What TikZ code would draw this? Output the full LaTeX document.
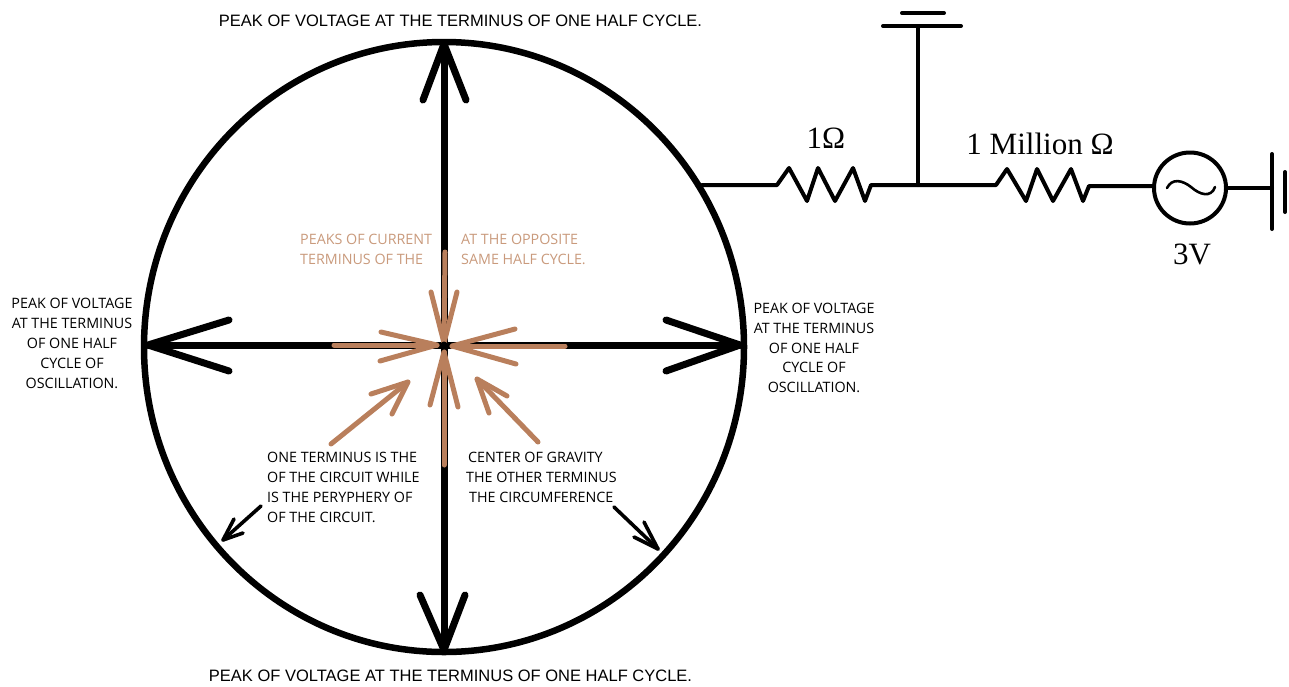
\documentclass[tikz,border=0pt]{standalone}
\usepackage{fontspec}
\usetikzlibrary{shapes.geometric}
\setmainfont{Open Sans}
\newfontfamily\arialf{Liberation Sans}
\newfontfamily\timesf{Liberation Serif}
\definecolor{brn}{HTML}{B97F5C}
\definecolor{brntxt}{HTML}{C99A7C}
\tikzset{
  thick line/.style={draw=black,line width=7pt,line cap=round,line join=round},
  wire/.style={draw=black,line width=4pt,line cap=round,line join=round},
  brown line/.style={draw=brn,line width=5pt,line cap=round,line join=round},
  thin arrow/.style={draw=black,line width=3.6pt,line cap=round,line join=round},
  small/.style={font=\fontsize{14.3}{19.8}\selectfont,align=center,inner sep=0pt,text=black},
  smallk/.style={font=\fontsize{14.3}{20}\selectfont,align=left,inner sep=0pt,anchor=north west,text=black},
  browntext/.style={font=\fontsize{14.3}{19.5}\selectfont,align=left,inner sep=0pt,anchor=north west,text=brntxt},
  cap text/.style={font=\arialf\fontsize{16.5}{18}\selectfont,inner sep=0pt},
  value/.style={font=\timesf\fontsize{31}{33}\selectfont,inner sep=0pt},
}
\begin{document}
\begin{tikzpicture}[x=1pt,y=-1pt]
\useasboundingbox (0,0) rectangle (1289,686);
% main circle
\node[draw=black,line width=6.5pt,ellipse,inner sep=0pt,minimum width=600pt,minimum height=610pt] (ring) at (444,347) {};
% coordinates
\coordinate (c) at (444,345);
\coordinate (top) at (444,44); \coordinate (bot) at (444,650);
\coordinate (lft) at (148,345); \coordinate (rgt) at (740,345);
% black axes
\draw[thick line] (c) -- (top); \draw[thick line] (c) -- (bot);
\draw[thick line] (c) -- (lft); \draw[thick line] (c) -- (rgt);
\draw[thick line] (423,100) -- (top) -- (466,100);
\draw[thick line] (420,595) -- (bot) -- (465,595);
\draw[thick line] (229,320) -- (lft) -- (229,371);
\draw[thick line] (666,320) -- (rgt) -- (666,371);
% brown arrows
\coordinate (bt) at (444,343); \coordinate (bb) at (444,352);
\coordinate (bl) at (437,345); \coordinate (br) at (452,346);
\draw[brown line] (445,252) -- (bt);
\draw[brown line] (431,292) -- (bt) -- (457,292);
\draw[brown line] (444,465) -- (bb);
\draw[brown line] (430,405) -- (bb) -- (458,407);
\draw[brown line] (334,345) -- (bl);
\draw[brown line] (381,332) -- (bl) -- (380,361);
\draw[brown line] (565,346) -- (br);
\draw[brown line] (515,329) -- (br) -- (516,364);
\coordinate (dl) at (408,382); \coordinate (dr) at (477,379);
\draw[brown line] (331,444) -- (dl);
\draw[brown line] (371,394) -- (dl) -- (392,414);
\draw[brown line] (538,442) -- (dr);
\draw[brown line] (507,396) -- (dr) -- (489,413);
\fill[black] (c) circle (3.5pt);
% small black arrows
\coordinate (al) at (223,540); \coordinate (ar) at (658,549);
\draw[thin arrow] (261,506) -- (al);
\draw[thin arrow] (234,519) -- (al) -- (243,533);
\draw[thin arrow] (614,507) -- (ar);
\draw[thin arrow] (644,522) -- (ar) -- (634,537);
% circuit
\coordinate (j1) at (702,185); \coordinate (jn) at (918,185);
\coordinate (sl) at (1153,186); \coordinate (gnd) at (1272,188);
\draw[wire] (j1) -- (777,185) -- (789,168) -- (807,201) -- (818,168) -- (835,201) -- (853,168) -- (865,201) -- (871,185) -- (jn)
  -- (996,185) -- (1007,169) -- (1026,201) -- (1037,169) -- (1053,201) -- (1071,169) -- (1083,201) -- (1089,186) -- (sl);
\coordinate (ant) at (918,26);
\draw[wire] (jn) -- (ant);
\draw[wire] (883,26) -- (961,26);
\draw[wire] (902,13) -- (944,13);
\node[draw=black,line width=4pt,ellipse,inner sep=0pt,minimum width=72pt,minimum height=71pt] (src) at (1190,188) {};
\draw[line width=2.6pt,line cap=round] (1167,188) .. controls (1172,178) and (1182,180) .. (1191,187) .. controls (1200,195) and (1211,198) .. (1215,187);
\draw[wire] (src.east) -- (gnd);
\draw[wire] (1272,154) -- (1272,229);
\draw[wire] (1285,172) -- (1285,212);
% labels
\node[cap text] (t1) at (460.5,21) {PEAK OF VOLTAGE AT THE TERMINUS OF ONE HALF CYCLE.};
\node[cap text] (t2) at (450.5,676) {PEAK OF VOLTAGE AT THE TERMINUS OF ONE HALF CYCLE.};
\node[small] (l) at (72,343.5) {PEAK OF VOLTAGE\\AT THE TERMINUS\\OF ONE HALF\\CYCLE OF\\OSCILLATION.};
\node[small] (r) at (814,348) {PEAK OF VOLTAGE\\AT THE TERMINUS\\OF ONE HALF\\CYCLE OF\\OSCILLATION.};
\node[browntext] (b1) at (300,234) {PEAKS OF CURRENT\\TERMINUS OF THE};
\node[browntext] (b2) at (461,234) {AT THE OPPOSITE\\SAME HALF CYCLE.};
\node[smallk] (k1) at (267,452) {ONE TERMINUS IS THE\\OF THE CIRCUIT WHILE\\IS THE PERYPHERY OF\\OF THE CIRCUIT.};
\node[smallk] (k2) at (466,452) {\hspace*{2pt}CENTER OF GRAVITY\\THE OTHER TERMINUS\\\hspace*{3pt}THE CIRCUMFERENCE};
\node[value] (v1) at (826,138) {1Ω};
\node[value] (v2) at (1040,144) {1 Million Ω};
\node[value] (v3) at (1192,254) {3V};
\end{tikzpicture}
\end{document}
